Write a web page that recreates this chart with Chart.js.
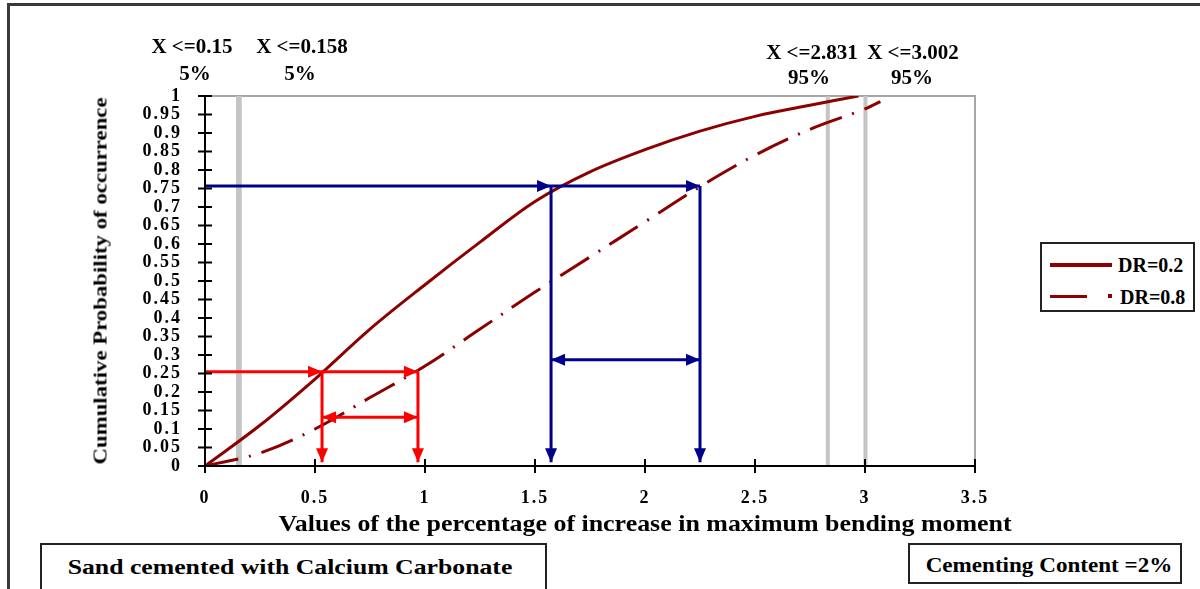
<!DOCTYPE html>
<html lang="en">
<head>
<meta charset="UTF-8">
<title>Cumulative Probability of occurrence</title>
<script src="https://cdn.jsdelivr.net/npm/chart.js"></script>
<style>
    html, body { margin: 0; padding: 0; background: #fff; }
    body {
        width: 1200px; height: 589px; position: relative; overflow: hidden;
        font-family: 'Liberation Serif', 'Times New Roman', serif;
        font-weight: bold; color: #000;
    }
    #frame {
        position: absolute; left: 7px; top: 3px; width: 1300px; height: 700px;
        border-left: 3px solid #3a3a3a; border-top: 3px solid #3a3a3a;
    }
    #chart { position: absolute; left: 0; top: 0; }
    .txt {
        position: absolute; white-space: nowrap; line-height: 1;
        transform: translate(-50%, -50%);
    }
    .top { font-size: 21px; }
    #ytitle { font-size: 19px; transform: translate(-50%, -50%) rotate(-90deg) scaleX(1.2); }
    #xtitle { font-size: 24px; transform: translate(-50%, -50%) scaleX(1.08); }
    .box { position: absolute; border: 2px solid #222; background: #fff; }
    #legend { left: 1040px; top: 242px; width: 151px; height: 66px; }
    #legend .txt { font-size: 20px; transform: translate(0, -50%); }
    .sample { position: absolute; background: #8b0000; height: 4px; }
</style>
</head>
<body>
<div id="frame"></div>
<canvas id="chart" width="1200" height="589"></canvas>

<div class="txt top" style="left:192px; top:46px">X &lt;=0.15</div>
<div class="txt top" style="left:195px; top:73px">5%</div>
<div class="txt top" style="left:302px; top:46px">X &lt;=0.158</div>
<div class="txt top" style="left:300px; top:73px">5%</div>
<div class="txt top" style="left:812px; top:52px">X &lt;=2.831</div>
<div class="txt top" style="left:809px; top:77px">95%</div>
<div class="txt top" style="left:913px; top:52px">X &lt;=3.002</div>
<div class="txt top" style="left:912px; top:77px">95%</div>

<div id="ytitle" class="txt" style="left:100px; top:281px">Cumulative Probability of occurrence</div>
<div id="xtitle" class="txt" style="left:645px; top:523px">Values of the percentage of increase in maximum bending moment</div>

<div id="legend" class="box">
    <div class="sample" style="left:8px; top:19px; width:62px;"></div>
    <div class="txt" style="left:76px; top:21px">DR=0.2</div>
    <div class="sample" style="left:8px; top:51px; width:37px; height:3px;"></div>
    <div class="sample" style="left:66px; top:50px; width:4px; height:4px;"></div>
    <div class="txt" style="left:78px; top:53px">DR=0.8</div>
</div>

<div class="box" style="left:40px; top:543px; width:503px; height:60px;">
    <div class="txt" style="left:248px; top:22px; font-size:22px; transform:translate(-50%,-50%) scaleX(1.17)">Sand cemented with Calcium Carbonate</div>
</div>
<div class="box" style="left:908px; top:543px; width:270px; height:37px;">
    <div class="txt" style="left:139px; top:20px; font-size:21px; transform:translate(-50%,-50%) scaleX(1.1)">Cementing Content =2%</div>
</div>

<script>
    // Axis ticks
    const xTicks = [0, 0.5, 1, 1.5, 2, 2.5, 3, 3.5];
    const xTickLabels = ['0', '0.5', '1', '1.5', '2', '2.5', '3', '3.5'];
    const yTicks = [0, 0.05, 0.1, 0.15, 0.2, 0.25, 0.3, 0.35, 0.4, 0.45, 0.5,
                    0.55, 0.6, 0.65, 0.7, 0.75, 0.8, 0.85, 0.9, 0.95, 1];
    const yTickLabels = ['0', '0.05', '0.1', '0.15', '0.2', '0.25', '0.3', '0.35', '0.4', '0.45', '0.5',
                         '0.55', '0.6', '0.65', '0.7', '0.75', '0.8', '0.85', '0.9', '0.95', '1'];

    // Cumulative curves
    const dr02X = [0, 0.25, 0.5, 0.75, 1.0, 1.25, 1.5, 1.75, 2.0, 2.25, 2.5, 2.75, 2.97];
    const dr02Y = [0, 0.11, 0.235, 0.37, 0.49, 0.605, 0.715, 0.795, 0.855, 0.905, 0.945, 0.975, 1.0];
    const dr08X = [0, 0.25, 0.5, 0.75, 1.0, 1.25, 1.5, 1.75, 2.0, 2.25, 2.5, 2.75, 3.0, 3.07];
    const dr08Y = [0, 0.035, 0.1, 0.185, 0.27, 0.37, 0.47, 0.565, 0.66, 0.755, 0.84, 0.91, 0.965, 0.985];

    // 5% / 95% markers
    const markerX = [0.15, 0.158, 2.831, 3.002];

    // Reading arrows: level, the two x values, height of the span arrow
    const redLevel = 0.255, redX = [0.532, 0.968], redSpan = 0.132;
    const blueLevel = 0.757, blueX = [1.573, 2.25], blueSpan = 0.287;
    const arrowFoot = 0.01;

    const darkRed = '#8b0000';

    function pts(xs, ys) {
        return xs.map((x, i) => ({ x: x, y: ys[i] }));
    }

    const markerSets = markerX.map(x => ({
        data: [{ x: x, y: 0 }, { x: x, y: 1 }],
        borderColor: '#c4c4c4',
        borderWidth: 4,
        pointRadius: 0,
        order: 3
    }));

    function drawArrow(ctx, x1, y1, x2, y2, color, both) {
        const ang = Math.atan2(y2 - y1, x2 - x1);
        const L = 14, W = 6;
        ctx.strokeStyle = color;
        ctx.fillStyle = color;
        ctx.lineWidth = 3;
        ctx.beginPath();
        ctx.moveTo(x1, y1);
        ctx.lineTo(x2, y2);
        ctx.stroke();
        const head = (x, y, a) => {
            ctx.beginPath();
            ctx.moveTo(x, y);
            ctx.lineTo(x - L * Math.cos(a) + W * Math.sin(a), y - L * Math.sin(a) - W * Math.cos(a));
            ctx.lineTo(x - L * Math.cos(a) - W * Math.sin(a), y - L * Math.sin(a) + W * Math.cos(a));
            ctx.closePath();
            ctx.fill();
        };
        head(x2, y2, ang);
        if (both) head(x1, y1, ang + Math.PI);
    }

    function readingArrows(ctx, sx, sy, level, xs, span, color) {
        const ly = sy.getPixelForValue(level);
        drawArrow(ctx, sx.getPixelForValue(0), ly, sx.getPixelForValue(xs[0]), ly, color, false);
        drawArrow(ctx, sx.getPixelForValue(xs[0]), ly, sx.getPixelForValue(xs[1]), ly, color, false);
        xs.forEach(x => {
            const px = sx.getPixelForValue(x);
            drawArrow(ctx, px, ly, px, sy.getPixelForValue(arrowFoot), color, false);
        });
        const spy = sy.getPixelForValue(span);
        drawArrow(ctx, sx.getPixelForValue(xs[0]), spy, sx.getPixelForValue(xs[1]), spy, color, true);
    }

    const framePlugin = {
        id: 'frame',
        beforeDraw(chart) {
            chart.ctx.letterSpacing = '2px';
        },
        beforeDatasetsDraw(chart) {
            const { ctx, chartArea: a } = chart;
            ctx.save();
            ctx.strokeStyle = '#a6a6a6';
            ctx.lineWidth = 2;
            ctx.strokeRect(a.left, a.top, a.right - a.left, a.bottom - a.top);
            ctx.restore();
        },
        afterDatasetsDraw(chart) {
            const { ctx, chartArea: a } = chart;
            const sx = chart.scales.x, sy = chart.scales.y;
            ctx.save();
            readingArrows(ctx, sx, sy, redLevel, redX, redSpan, '#ff0000');
            readingArrows(ctx, sx, sy, blueLevel, blueX, blueSpan, '#00008b');
            // black axes with ticks crossing them
            ctx.strokeStyle = '#000';
            ctx.lineWidth = 2;
            ctx.beginPath();
            ctx.moveTo(a.left, a.top);
            ctx.lineTo(a.left, a.bottom);
            ctx.lineTo(a.right, a.bottom);
            yTicks.forEach(v => {
                const y = sy.getPixelForValue(v);
                ctx.moveTo(a.left - 7, y);
                ctx.lineTo(a.left + 7, y);
            });
            xTicks.forEach(v => {
                const x = sx.getPixelForValue(v);
                ctx.moveTo(x, a.bottom - 7);
                ctx.lineTo(x, a.bottom + 7);
            });
            ctx.stroke();
            ctx.restore();
        }
    };

    const tickFont = { family: "'Liberation Serif', 'Times New Roman', serif", weight: 'bold', size: 18 };

    new Chart(document.getElementById('chart'), {
        type: 'line',
        data: {
            datasets: [
                {
                    label: 'DR=0.2',
                    data: pts(dr02X, dr02Y),
                    borderColor: darkRed,
                    borderWidth: 3,
                    pointRadius: 0,
                    tension: 0.35,
                    order: 1
                },
                {
                    label: 'DR=0.8',
                    data: pts(dr08X, dr08Y),
                    borderColor: darkRed,
                    borderWidth: 3,
                    borderDash: [34, 11, 2, 11],
                    pointRadius: 0,
                    tension: 0.35,
                    order: 2
                },
                ...markerSets
            ]
        },
        options: {
            responsive: false,
            animation: false,
            devicePixelRatio: 1,
            layout: { padding: { left: 0, top: 96, right: 225, bottom: 0 } },
            plugins: { legend: { display: false }, tooltip: { enabled: false } },
            scales: {
                x: {
                    type: 'linear',
                    min: 0,
                    max: 3.5,
                    afterBuildTicks: s => { s.ticks = xTicks.map(v => ({ value: v })); },
                    afterFit: s => { s.height = 123; },
                    grid: { display: false },
                    border: { display: false },
                    ticks: {
                        color: '#000',
                        font: tickFont,
                        padding: 14,
                        maxRotation: 0,
                        callback: (v, i) => xTickLabels[i]
                    }
                },
                y: {
                    type: 'linear',
                    min: 0,
                    max: 1,
                    afterBuildTicks: s => { s.ticks = yTicks.map(v => ({ value: v })); },
                    afterFit: s => { s.width = 205; },
                    grid: { display: false },
                    border: { display: false },
                    ticks: {
                        color: '#000',
                        font: tickFont,
                        padding: 15,
                        autoSkip: false,
                        callback: (v, i) => yTickLabels[i]
                    }
                }
            }
        },
        plugins: [framePlugin]
    });
</script>
</body>
</html>
